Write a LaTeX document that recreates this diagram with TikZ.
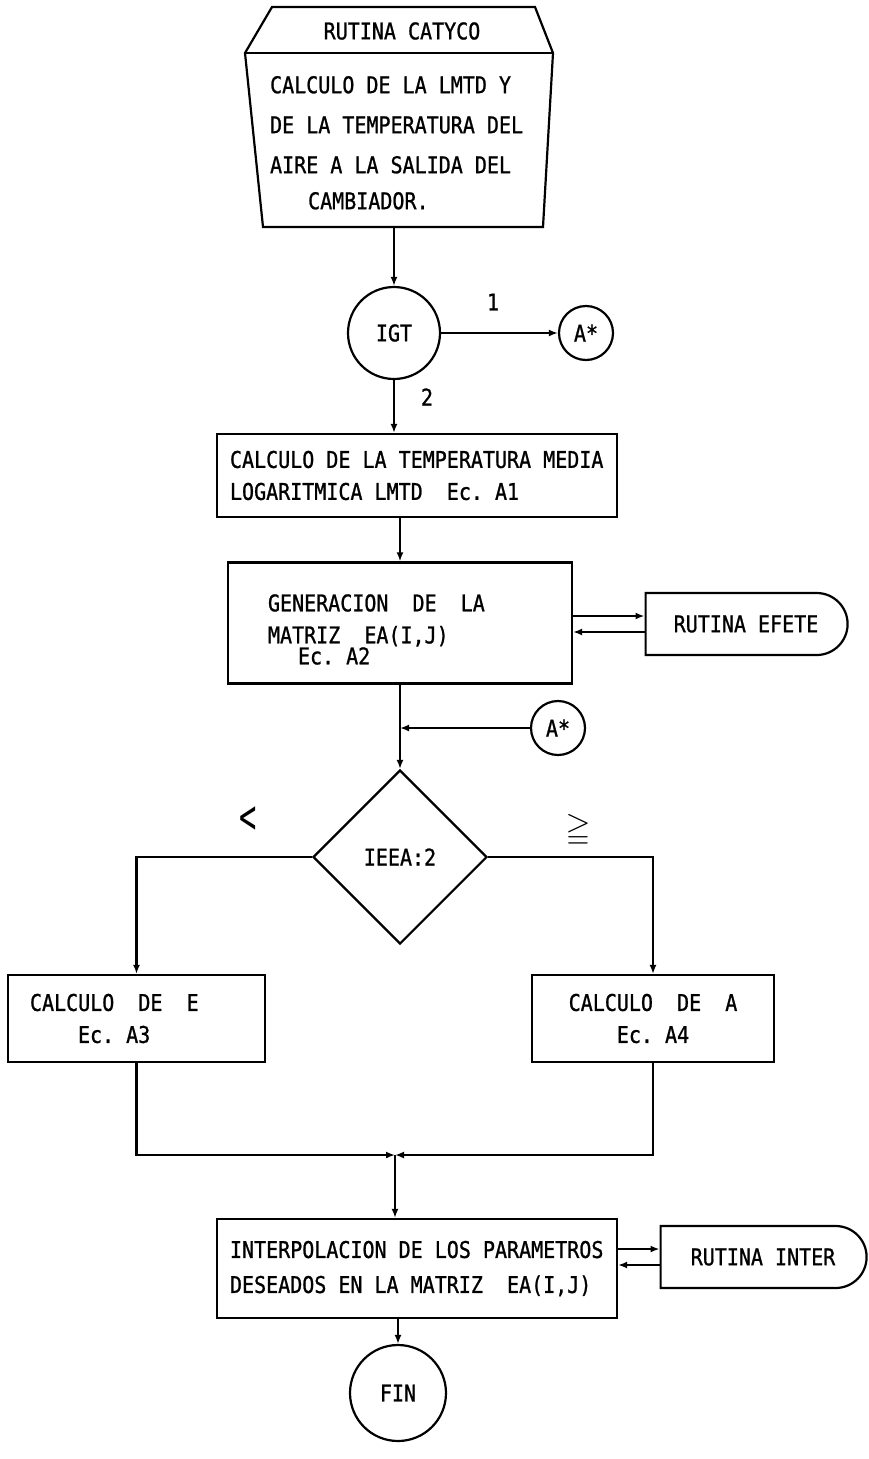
\documentclass[tikz,border=0pt]{standalone}
\usepackage{fontspec}
\usepackage{amssymb}
\newfontfamily\flowfont[FakeStretch=0.87, FakeBold=1]{DejaVu Sans Mono}
\newfontfamily\signfont[FakeStretch=0.6]{DejaVu Sans Mono}
\usetikzlibrary{shapes.geometric,shapes.misc,arrows.meta,positioning}
\frenchspacing

\begin{document}
\begin{tikzpicture}[x=1pt, y=-1pt, line width=2.2pt,
    every node/.style={font=\flowfont\fontsize{23}{32}\selectfont},
    box/.style={draw, rectangle, inner xsep=13pt, inner ysep=0pt, align=left,
        execute at begin node={\spaceskip=\fontdimen2\font\relax}},
    conn/.style={draw, circle, inner sep=0pt},
    sub/.style={draw, rounded rectangle, rounded rectangle west arc=none, inner sep=0pt},
    flow/.style={-{Latex[length=9pt, width=7pt]}}]
\useasboundingbox (0,0) rectangle (869,1459);

% Routine header
\draw (272,7) -- (535,7) -- (553,53) -- (543,227) -- (263,227) -- (245,53) -- cycle;
\draw (245,53) -- (553,53);
\node (catycotitle) at (402,31) {RUTINA CATYCO};
\node[anchor=north west, inner sep=0pt, align=left, font=\flowfont\fontsize{23}{40}\selectfont] (catycobody) at (269,75)
    {CALCULO DE LA LMTD Y\\DE LA TEMPERATURA DEL\\AIRE A LA SALIDA DEL\\[-4pt]\hspace*{38pt}CAMBIADOR.};
\coordinate (catyco) at (394,227);

% Selector
\node[conn, minimum size=92pt] (igt) at (394,333) {IGT};
\node[conn, minimum size=54pt] (astar1) at (586,333) {A*};
\node (one) at (493,302) {1};
\node (two) at (427,397) {2};

% Process boxes
\node[box, text width=374pt, minimum height=83pt] (lmtd) at (417,475.5)
    {CALCULO DE LA TEMPERATURA MEDIA\\LOGARITMICA LMTD\ \ Ec. A1};
\node[box, inner xsep=40pt, text width=264pt, minimum height=121pt] (matriz) at (400,623)
    {\rule{0pt}{30pt}GENERACION\ \ DE\ \ LA\\MATRIZ\ \ EA(I,J)\\[-11pt]\hspace*{30pt}Ec. A2};
\node[sub, minimum width=202pt, minimum height=62pt] (efete) at (746,624) {RUTINA EFETE};
\node[conn, minimum size=54pt] (astar2) at (558,728) {A*};

% Decision
\node[draw, diamond, inner sep=0pt, minimum width=174pt, minimum height=174pt] (ieea) at (400,857) {IEEA:2};
\node[font=\signfont\fontsize{48}{48}\selectfont] (lt) at (248,820) {<};
\node[font=\fontsize{32}{32}\selectfont] (ge) at (578,830) {$\geqq$};

\node[box, inner xsep=22pt, text width=213pt, minimum height=87pt] (calce) at (136.5,1018.5)
    {CALCULO\ \ DE\ \ E\\\hspace*{48pt}Ec. A3};
\node[box, align=center, text width=216pt, minimum height=87pt] (calca) at (653,1018.5)
    {CALCULO\ \ DE\ \ A\\Ec. A4};
\coordinate (merge) at (395,1155);

\node[box, text width=374pt, minimum height=99pt] (interp) at (417,1268.5)
    {INTERPOLACION DE LOS PARAMETROS\\[3pt]DESEADOS EN LA MATRIZ\ \ EA(I,J)};
\node[sub, minimum width=206pt, minimum height=62pt] (inter) at (763,1257) {RUTINA INTER};
\node[conn, minimum size=96pt] (fin) at (398,1393) {FIN};

% Connectors
\draw[flow] (catyco) -- (igt);
\draw[flow] (igt) -- (astar1);
\draw[flow] (igt) -- (igt |- lmtd.north);
\draw[flow] (lmtd.south -| matriz.north) -- (matriz.north);
\draw (efete.west) ++(0,-8) coordinate (e1);
\draw[flow] (e1 -| matriz.east) -- (e1);
\draw (efete.west) ++(0,8) coordinate (e2);
\draw[flow] (e2) -- (e2 -| matriz.east);
\draw[flow] (matriz) -- (ieea);
\draw[flow] (astar2) -- (astar2 -| ieea.north);
\draw[flow] (ieea.west) -| (calce.north);
\draw[flow] (ieea.east) -| (calca.north);
\draw[flow] (calce.south) |- (merge);
\draw[flow] (calca.south) |- (merge);
\draw[flow] (merge) -- (merge |- interp.north);
\draw (inter.west) ++(0,-8) coordinate (i1);
\draw[flow] (i1 -| interp.east) -- (i1);
\draw (inter.west) ++(0,8) coordinate (i2);
\draw[flow] (i2) -- (i2 -| interp.east);
\draw[flow] (interp.south -| fin.north) -- (fin);
\end{tikzpicture}
\end{document}
